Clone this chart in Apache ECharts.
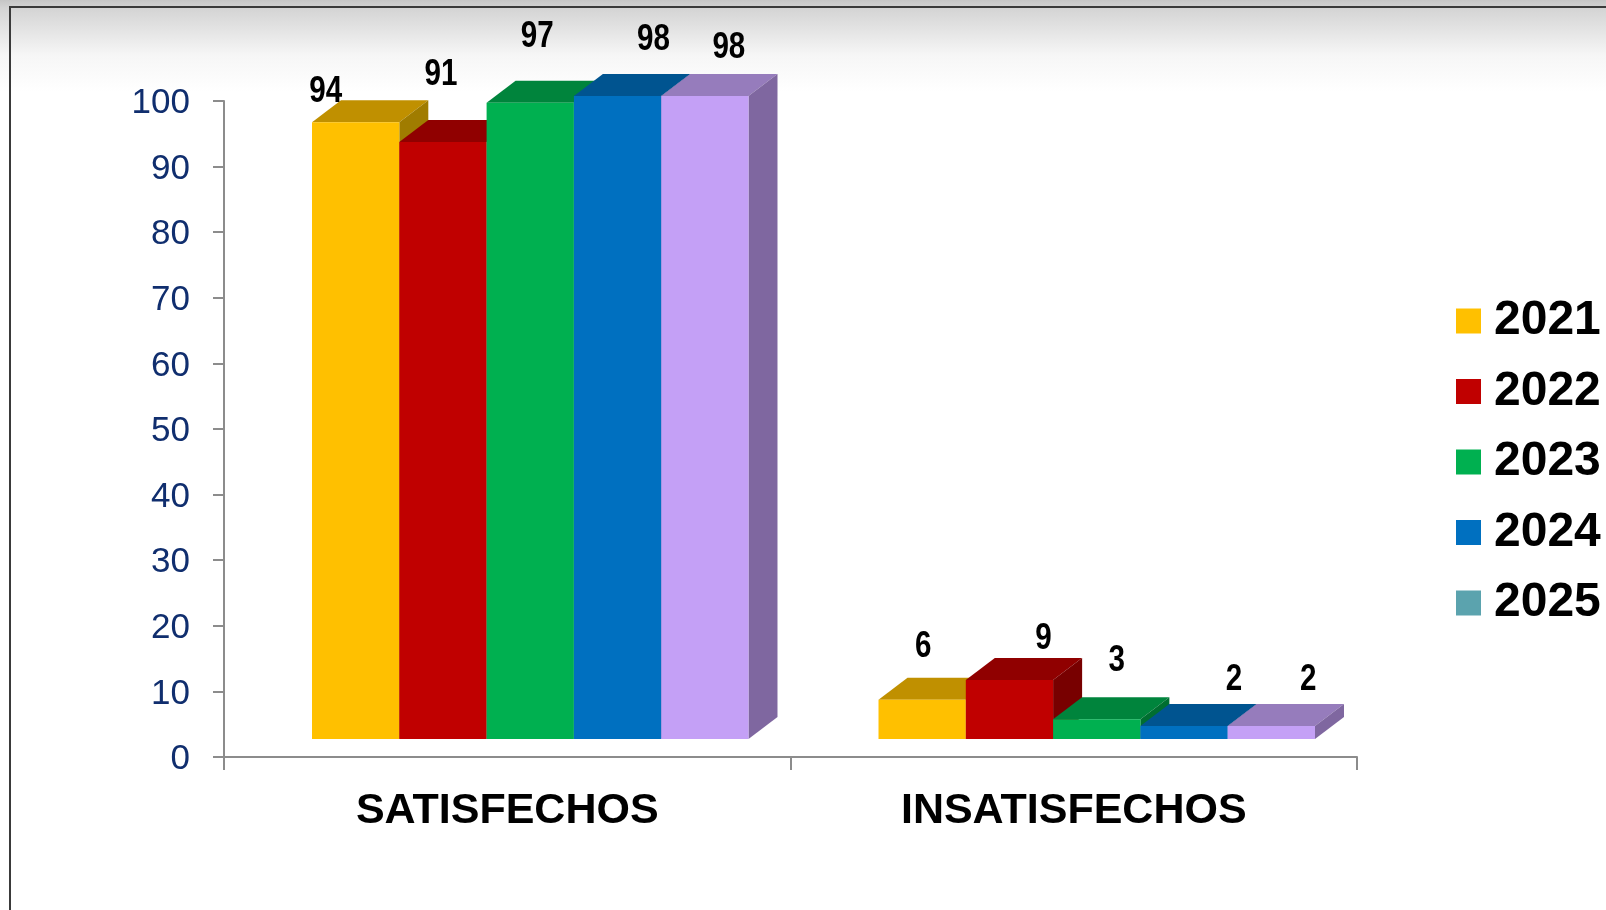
<!DOCTYPE html>
<html>
<head>
<meta charset="utf-8">
<script src="https://cdn.jsdelivr.net/npm/echarts@6/dist/echarts.min.js"></script>
<style>
html,body{margin:0;padding:0;background:#fff;}
#c{width:1606px;height:910px;}
</style>
</head>
<body>
<div id="c"></div>
<script>
// ---- data ----
const categories = ['SATISFECHOS', 'INSATISFECHOS'];
const years = ['2021', '2022', '2023', '2024', '2025'];
const v2021 = [94, 6];
const v2022 = [91, 9];
const v2023 = [97, 3];
const v2024 = [98, 2];
const v2025 = [98, 2];
const yTicks = [0, 10, 20, 30, 40, 50, 60, 70, 80, 90, 100];

// ---- styles ----
const seriesValues = [v2021, v2022, v2023, v2024, v2025];
const faceColors = [
  {front: '#FFC000', top: '#C09000', side: '#A07C00'},
  {front: '#C00000', top: '#900000', side: '#780000'},
  {front: '#00B050', top: '#00843C', side: '#006E30'},
  {front: '#0070C0', top: '#005490', side: '#004878'},
  {front: '#C4A0F6', top: '#967CBC', side: '#7F67A0'}
];
const legendColors = ['#FFC000', '#C00000', '#00B050', '#0070C0', '#5BA3AE'];
// label nudges relative to the front-top centre of each bar (per year, per category)
const labelNudge = [
  [[-30, -32], [1, -54]],
  [[-2, -68], [34, -42]],
  [[7, -67], [20, -60]],
  [[36, -57], [50, -47]],
  [[24, -49], [37, -47]]
];
const BAR_FRAC = 0.1541;
const FRONT_DX = 23, FRONT_DY = -18;
const DEPTH_DX = 29, DEPTH_DY = -22;

const chart = echarts.init(document.getElementById('c'), null, {renderer: 'canvas'});

function makeRender(si) {
  return function (params, api) {
    const cat = api.value(0), val = api.value(1);
    const base = api.coord([cat, 0]);
    const tp = api.coord([cat, val]);
    const band = api.size([1, 0])[0];
    const bw = band * BAR_FRAC;
    const n = years.length;
    const x0 = base[0] - n * bw / 2 + si * bw + FRONT_DX;
    const x1 = x0 + bw;
    const yb = base[1] + FRONT_DY;
    const yt = tp[1] + FRONT_DY;
    const c = faceColors[si];
    const nudge = labelNudge[si][cat];
    return {
      type: 'group',
      children: [
        {type: 'polygon', shape: {points: [[x0, yt], [x1, yt], [x1 + DEPTH_DX, yt + DEPTH_DY], [x0 + DEPTH_DX, yt + DEPTH_DY]]}, style: {fill: c.top}},
        {type: 'polygon', shape: {points: [[x1, yt], [x1 + DEPTH_DX, yt + DEPTH_DY], [x1 + DEPTH_DX, yb + DEPTH_DY], [x1, yb]]}, style: {fill: c.side}},
        {type: 'rect', shape: {x: x0, y: yt, width: bw, height: yb - yt}, style: {fill: c.front}},
        {type: 'text', x: (x0 + x1) / 2 + nudge[0], y: yt + nudge[1] + 1, scaleX: 0.8, z2: 100,
          style: {text: String(val), fill: '#000', align: 'center', verticalAlign: 'middle',
            font: 'bold 37px "Liberation Sans", Arial, sans-serif'}}
      ]
    };
  };
}

const series = years.map((y, si) => ({
  name: y,
  type: 'custom',
  renderItem: makeRender(si),
  encode: {x: 0, y: 1},
  itemStyle: {color: legendColors[si]},
  data: seriesValues[si].map((v, ci) => [ci, v])
}));

chart.setOption({
  backgroundColor: '#ffffff',
  animation: false,
  textStyle: {fontFamily: '"Liberation Sans", Arial, sans-serif'},
  graphic: [
    {type: 'rect', z: -10, silent: true, shape: {x: 0, y: 0, width: 1606, height: 92},
      style: {fill: new echarts.graphic.LinearGradient(0, 0, 0, 1, [
        {offset: 0, color: '#c6c6c6'}, {offset: 0.09, color: '#d4d4d4'}, {offset: 0.6, color: '#f6f6f6'}, {offset: 1, color: '#ffffff'}])}},
    {type: 'rect', z: -9, silent: true, shape: {x: 9, y: 6, width: 1600, height: 2}, style: {fill: '#3a3a3a'}},
    {type: 'rect', z: -9, silent: true, shape: {x: 9, y: 6, width: 2, height: 910}, style: {fill: '#3a3a3a'}}
  ],
  grid: {left: 224, right: 249, top: 101, bottom: 153, containLabel: false},
  legend: {
    orient: 'vertical', left: 1456, top: 297, padding: 0, itemWidth: 25, itemHeight: 25, itemGap: 22.5,
    icon: 'rect', selectedMode: false,
    textStyle: {fontSize: 48, fontWeight: 'bold', color: '#000', fontFamily: '"Liberation Sans", Arial, sans-serif', padding: [0, 0, 0, 8]},
    data: years.map((y, i) => ({name: y, itemStyle: {color: legendColors[i]}}))
  },
  xAxis: {
    type: 'category', data: categories, boundaryGap: true,
    axisLine: {lineStyle: {color: '#8c8c8c', width: 2}},
    axisTick: {show: true, length: 13, lineStyle: {color: '#8c8c8c', width: 2}},
    axisLabel: {fontSize: 43, fontWeight: 'bold', color: '#000', margin: 33, fontFamily: '"Liberation Sans", Arial, sans-serif'}
  },
  yAxis: {
    type: 'value', min: yTicks[0], max: yTicks[yTicks.length - 1], interval: yTicks[1] - yTicks[0],
    axisLine: {show: true, lineStyle: {color: '#8c8c8c', width: 2}},
    axisTick: {show: true, length: 11, lineStyle: {color: '#8c8c8c', width: 2}},
    splitLine: {show: false},
    axisLabel: {fontSize: 35, color: '#102E6E', margin: 34, fontFamily: '"Liberation Sans", Arial, sans-serif',
      formatter: '{v|{value}}', rich: {v: {fontSize: 35, color: '#102E6E', padding: [5, 0, 0, 0]}}}
  },
  series: series
});
</script>
</body>
</html>
